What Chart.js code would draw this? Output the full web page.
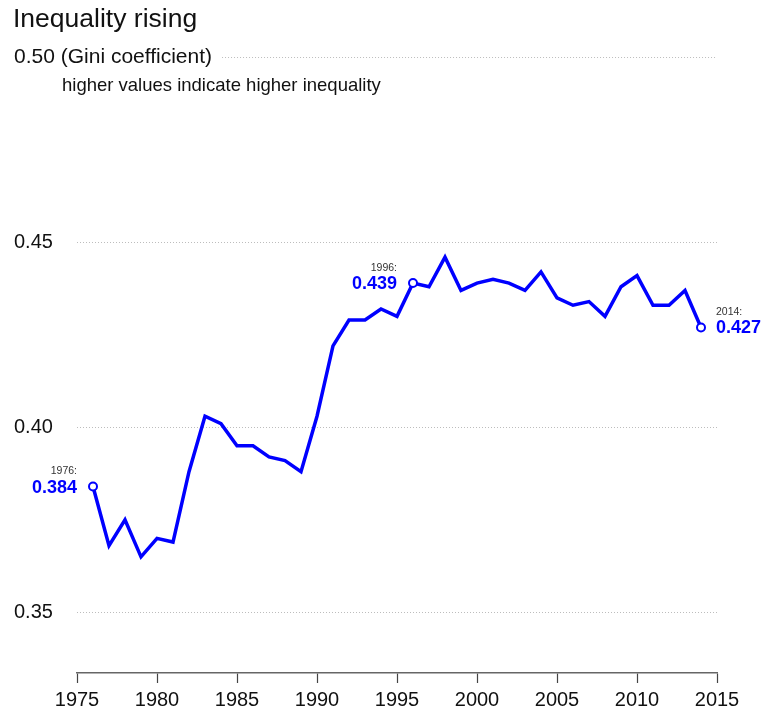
<!DOCTYPE html>
<html>
<head>
<meta charset="utf-8">
<title>Inequality rising</title>
<script src="https://cdn.jsdelivr.net/npm/chart.js@4.4.1/dist/chart.umd.min.js"></script>
<style>
  body { margin: 0; background: #fff; }
  canvas { display: block; }
</style>
</head>
<body>
<canvas id="giniChart" width="764" height="713"></canvas>
<script>
// === DATA ===
const years = [1976, 1977, 1978, 1979, 1980, 1981, 1982, 1983, 1984, 1985,
  1986, 1987, 1988, 1989, 1990, 1991, 1992, 1993, 1994, 1995,
  1996, 1997, 1998, 1999, 2000, 2001, 2002, 2003, 2004, 2005,
  2006, 2007, 2008, 2009, 2010, 2011, 2012, 2013, 2014];
const gini = [0.384, 0.368, 0.375, 0.365, 0.370, 0.369, 0.388, 0.403, 0.401, 0.395,
  0.395, 0.392, 0.391, 0.388, 0.403, 0.422, 0.429, 0.429, 0.432, 0.430,
  0.439, 0.438, 0.446, 0.437, 0.439, 0.440, 0.439, 0.437, 0.442, 0.435,
  0.433, 0.434, 0.430, 0.438, 0.441, 0.433, 0.433, 0.437, 0.427];
const labelledYears = [1976, 1996, 2014];

const xTicks = [1975, 1980, 1985, 1990, 1995, 2000, 2005, 2010, 2015];
const yTicks = [0.35, 0.40, 0.45, 0.50];
const yTickLabels = ["0.35", "0.40", "0.45", "0.50 (Gini coefficient)"];

const chartTitle = "Inequality rising";
const chartSubtitle = "higher values indicate higher inequality";

const BLUE = "#0000ff";
const FONT = "'Liberation Sans', Arial, Helvetica, sans-serif";

const points = years.map((y, i) => ({ x: y, y: gini[i] }));

// top tick carries the unit text, a touch bigger
function yTickSize(v) {
  return v === yTicks[yTicks.length - 1] ? 21 : 20;
}

// === PLUGIN: titles, dotted grid, point labels ===
const decorations = {
  id: "decorations",
  beforeDatasetsDraw(chart) {
    const ctx = chart.ctx;
    const area = chart.chartArea;
    const yScale = chart.scales.y;
    ctx.save();
    ctx.strokeStyle = "#bdbdbd";
    ctx.lineWidth = 1;
    ctx.setLineDash([1, 2]);
    yTicks.forEach((v, i) => {
      const y = Math.round(yScale.getPixelForValue(v)) + 0.5;
      let x0 = area.left;
      if (i === yTicks.length - 1) {
        // top line starts after its long label
        ctx.font = yTickSize(v) + "px " + FONT;
        x0 = 14 + ctx.measureText(yTickLabels[i]).width + 10;
      }
      ctx.beginPath();
      ctx.moveTo(x0, y);
      ctx.lineTo(area.right, y);
      ctx.stroke();
    });
    ctx.restore();
  },
  afterDatasetsDraw(chart) {
    const ctx = chart.ctx;
    const meta = chart.getDatasetMeta(0);
    ctx.save();

    // titles
    ctx.fillStyle = "#111";
    ctx.textAlign = "left";
    ctx.textBaseline = "alphabetic";
    ctx.font = "26.5px " + FONT;
    ctx.fillText(chartTitle, 13, 27);
    ctx.font = "18.5px " + FONT;
    ctx.fillText(chartSubtitle, 62, 91);

    // labels on the marked points
    labelledYears.forEach((yr, k) => {
      const idx = years.indexOf(yr);
      const pt = meta.data[idx];
      const last = k === labelledYears.length - 1;
      const x = last ? pt.x + 15 : pt.x - 16;
      ctx.textAlign = last ? "left" : "right";
      ctx.textBaseline = "middle";
      ctx.fillStyle = "#333";
      ctx.font = "10.5px " + FONT;
      ctx.fillText(yr + ":", x, pt.y - 15);
      ctx.fillStyle = BLUE;
      ctx.font = "bold 18px " + FONT;
      ctx.fillText(gini[idx].toFixed(3), x, pt.y + 1);
    });
    ctx.restore();
  }
};

// === CHART ===
const ctx = document.getElementById("giniChart");
const giniChart = new Chart(ctx, {
  type: "line",
  data: {
    datasets: [{
      data: points,
      borderColor: BLUE,
      borderWidth: 3.5,
      tension: 0,
      clip: false,
      pointRadius: c => labelledYears.includes(years[c.dataIndex]) ? 4 : 0,
      pointBackgroundColor: "#fff",
      pointBorderColor: BLUE,
      pointBorderWidth: 2
    }]
  },
  options: {
    responsive: false,
    animation: false,
    devicePixelRatio: 1,
    layout: { padding: { top: 57, left: 14, right: 47, bottom: 0 } },
    plugins: {
      legend: { display: false },
      tooltip: { enabled: false },
      title: { display: false }
    },
    scales: {
      x: {
        type: "linear",
        min: 1975,
        max: 2015,
        afterBuildTicks: s => { s.ticks = xTicks.map(v => ({ value: v })); },
        afterFit: s => { s.height = 40; },
        grid: {
          drawOnChartArea: false,
          drawTicks: true,
          tickLength: 10,
          tickColor: "#444",
          tickWidth: 1.2
        },
        border: { display: true, color: "#666", width: 1.5 },
        ticks: {
          padding: 5,
          color: "#111",
          font: { family: FONT, size: 20 },
          maxRotation: 0,
          callback: v => String(v)
        }
      },
      y: {
        min: 0.3336,
        max: 0.5001,
        afterBuildTicks: s => { s.ticks = yTicks.map(v => ({ value: v })); },
        afterFit: s => { s.width = 63; },
        grid: { display: false },
        border: { display: false },
        ticks: {
          // mirrored labels are not clipped to the axis box; pull them back to the left edge
          mirror: true,
          padding: -63,
          color: "#111",
          font: c => ({ family: FONT, size: c.tick ? yTickSize(c.tick.value) : 20 }),
          callback: v => yTickLabels[yTicks.indexOf(v)]
        }
      }
    }
  },
  plugins: [decorations]
});
</script>
</body>
</html>
